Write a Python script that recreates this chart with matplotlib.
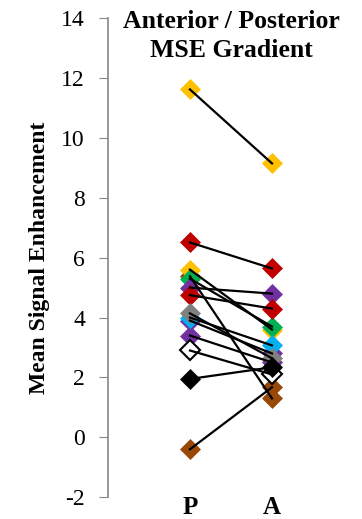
import matplotlib.pyplot as plt

# Posterior (P) and anterior (A) values per subject
labels = ["P", "A"]
p_values = [11.62, 6.51, 5.38, -0.40, 5.60, 5.30, 5.00, 4.75, 3.40, 3.90, 4.00, 4.14, 2.90, 1.95]
a_values = [9.15, 5.64, 1.30, 1.67, 3.60, 3.70, 4.80, 4.30, 2.50, 2.80, 3.07, 2.64, 2.10, 2.34]
colors = ["#FFC000", "#C00000", "#984807", "#984807", "#FFC000", "#00B050", "#7030A0",
          "#C00000", "#7030A0", "#7030A0", "#00B0F0", "#808080", "white", "black"]

SPINE = "#868686"

plt.rcParams["font.family"] = ["Liberation Serif", "DejaVu Serif"]
plt.rcParams["axes.unicode_minus"] = False

fig = plt.figure(figsize=(3.62, 5.19), dpi=100)
ax = fig.add_axes([0.298, 0.042, 0.68, 0.923])

x = [1, 2]
for p, a, c in zip(p_values, a_values, colors):
    ax.plot(x, [p, a], linestyle="none", marker="D", markersize=10,
            markerfacecolor=c, markeredgecolor="black" if c == "white" else c,
            markeredgewidth=1.5 if c == "white" else 0.5, zorder=2)
    ax.plot(x, [p, a], color="black", linewidth=1.6, zorder=3)

ax.set_xlim(0, 3)
ax.set_ylim(-2, 14)
ax.set_yticks(range(-2, 15, 2))
ax.set_xticks(x)
ax.set_xticklabels(labels, fontsize=18, fontweight="bold")
ax.tick_params(axis="x", length=0, pad=-1)
ax.tick_params(axis="y", direction="out", length=6.5, color=SPINE, labelsize=17, pad=10)

for side in ["top", "right", "bottom"]:
    ax.spines[side].set_visible(False)
ax.spines["left"].set_color(SPINE)
ax.spines["left"].set_linewidth(1.2)

ax.set_ylabel("Mean Signal Enhancement", fontsize=17, fontweight="bold", labelpad=8)
ax.text(1.5, 14.28, "Anterior / Posterior\nMSE Gradient", ha="center", va="top",
        fontsize=18.5, fontweight="bold", linespacing=1.35)

fig.savefig("out.png", dpi=100, facecolor="white")
